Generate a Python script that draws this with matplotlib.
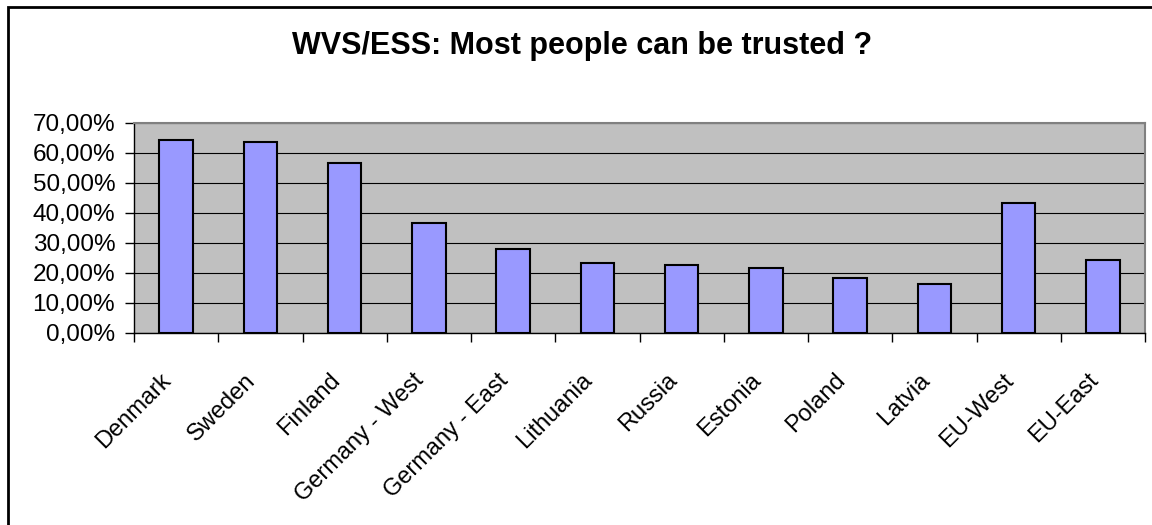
import matplotlib
matplotlib.use('Agg')
import matplotlib.pyplot as plt
from matplotlib.ticker import FuncFormatter, MultipleLocator
import matplotlib.patches as mpatches
import numpy as np

## Data ##
countries = ['Denmark', 'Sweden', 'Finland', 'Germany - West', 'Germany - East',
             'Lithuania', 'Russia', 'Estonia', 'Poland', 'Latvia', 'EU-West', 'EU-East']
trust = [64.3, 63.6, 56.7, 36.8, 28.0, 23.5, 22.8, 21.6, 18.5, 16.4, 43.3, 24.2]

plt.rcParams['font.family'] = ['Liberation Sans', 'DejaVu Sans']

fig = plt.figure(figsize=(11.52, 5.25), dpi=100)
ax = fig.add_axes([134/1152, 1-333/525, (1145-134)/1152, (333-123)/525])

x = np.arange(len(countries))
ax.bar(x, trust, width=0.4, color='#9999FF', edgecolor='black', linewidth=1.5, zorder=3)

ax.set_facecolor('#C0C0C0')
ax.set_xlim(-0.5, len(countries) - 0.5)
ax.set_ylim(0, 70)

# gridlines
ax.yaxis.set_major_locator(MultipleLocator(10))
ax.grid(axis='y', color='black', linewidth=0.8, zorder=1)
ax.yaxis.set_major_formatter(FuncFormatter(lambda v, p: f'{v:.2f}%'.replace('.', ',')))

# spines
for s in ['top', 'right']:
    ax.spines[s].set_color('#808080')
    ax.spines[s].set_linewidth(1.5)
for s in ['left', 'bottom']:
    ax.spines[s].set_color('black')
    ax.spines[s].set_linewidth(1.0)

# ticks on category boundaries; labels on invisible minor ticks, nudged left
# so the end of each rotated label sits just left of its bar like in Excel
ax.set_xticks(np.arange(-0.5, len(countries)), minor=False)
ax.set_xticklabels([])
ax.set_xticks(x - 0.19, minor=True)
ax.set_xticklabels(countries, minor=True, rotation=45, ha='right',
                   rotation_mode='anchor', fontsize=17)
ax.tick_params(axis='x', which='major', direction='out', length=6.5, width=1.0)
ax.tick_params(axis='x', which='minor', length=0, pad=26)
ax.tick_params(axis='y', direction='out', length=6.5, width=1.0, labelsize=17.5, pad=7)

fig.text(582/1152, 1-46/525, 'WVS/ESS: Most people can be trusted ?',
         ha='center', va='center', fontsize=22, fontweight='bold')

# chart border (left and top visible)
fig.patches.append(mpatches.Rectangle((8/1152, -0.1), 1.2, 1.1-7/525, fill=False,
                                      edgecolor='black', linewidth=2,
                                      transform=fig.transFigure))

fig.savefig('out.png', dpi=100)
